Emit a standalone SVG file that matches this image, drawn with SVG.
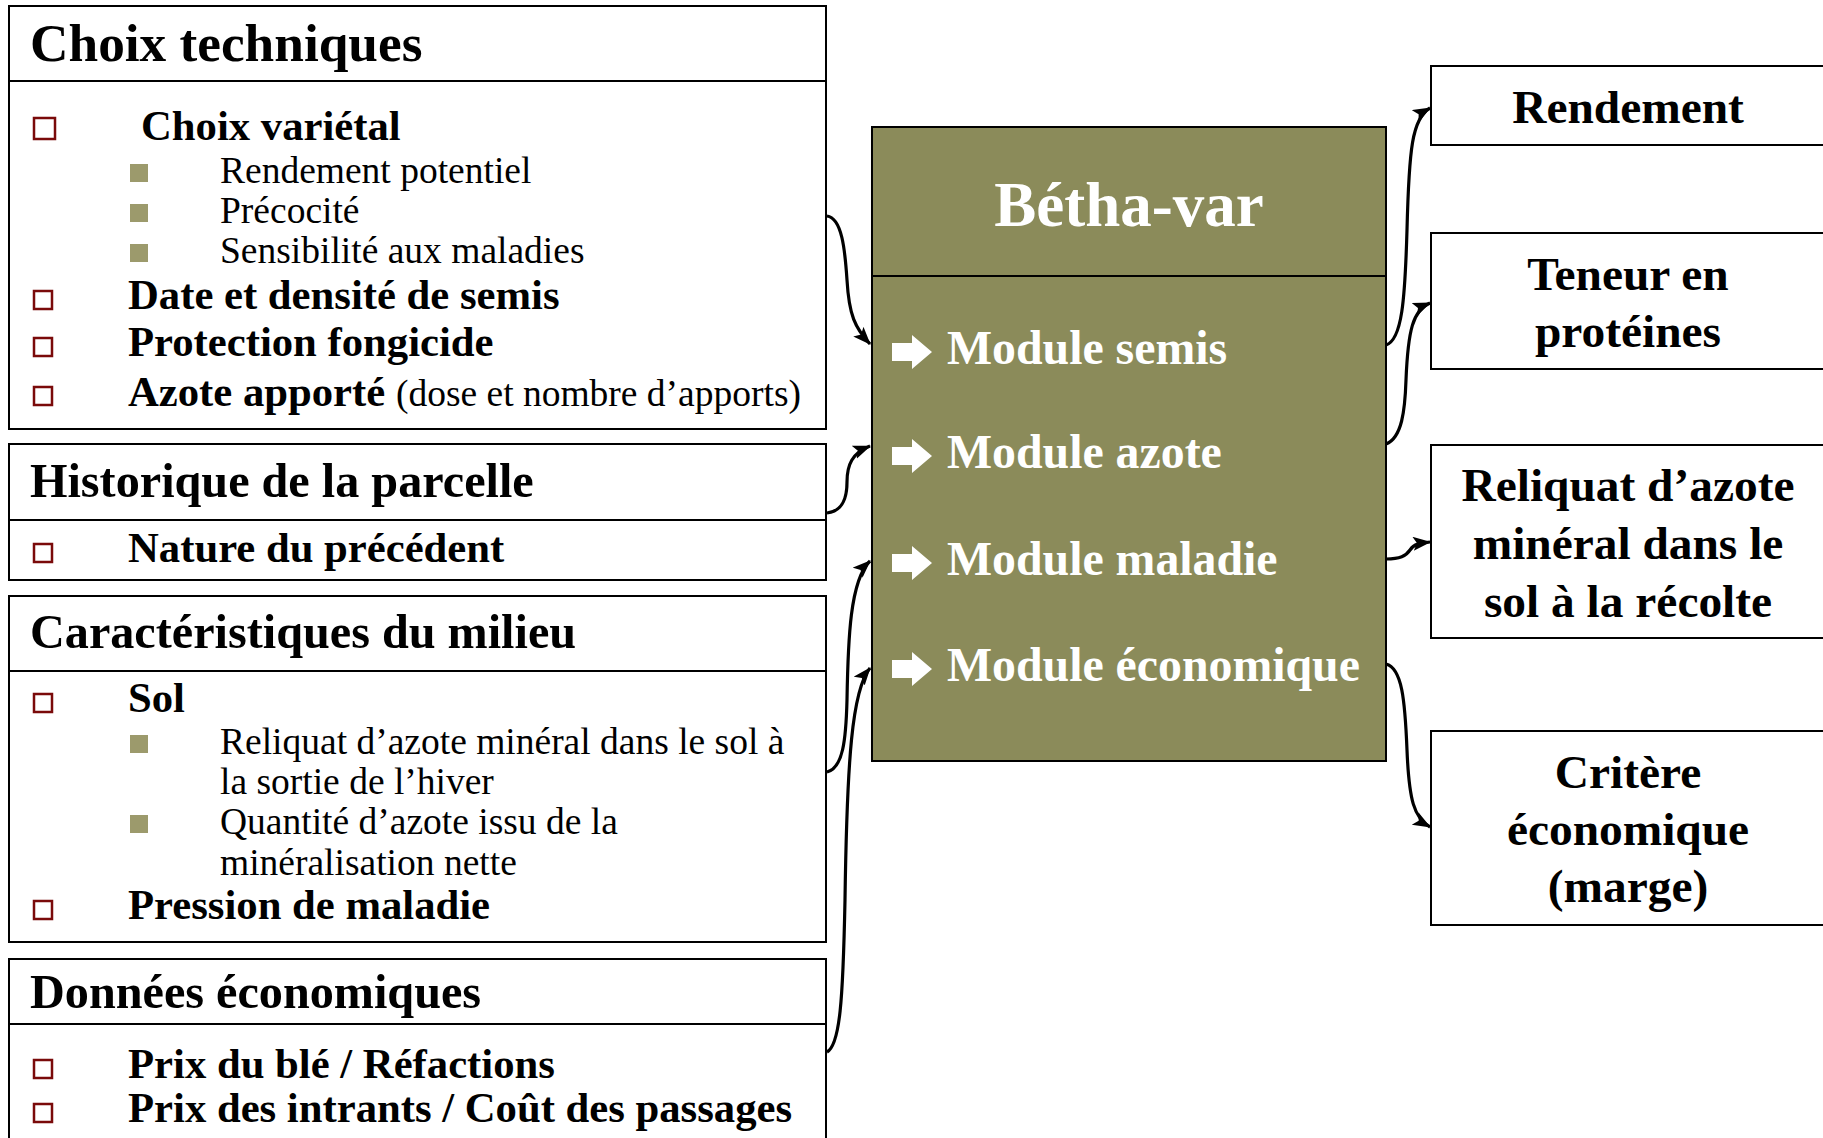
<svg xmlns="http://www.w3.org/2000/svg" width="1823" height="1138" viewBox="0 0 1823 1138">
<style>
text{font-family:"Liberation Serif","Times New Roman",serif;fill:#000}
.box{fill:#fff;stroke:#000;stroke-width:2}
.sep{stroke:#000;stroke-width:2}
.t53{font-size:53.3px;font-weight:bold}
.t48{font-size:48.2px;font-weight:bold}
.b42{font-size:42.7px;font-weight:bold}
.r37{font-size:37.5px;font-weight:normal}
.hb{fill:none;stroke:#7a0a0a;stroke-width:2.5}
.ob{fill:#9c9a6c}
.mod{font-size:47.8px;font-weight:bold;fill:#fff}
.out{font-size:47.4px;font-weight:bold;text-anchor:middle}
.con{fill:none;stroke:#000;stroke-width:3.2;marker-end:url(#ah)}
</style>
<defs>
<marker id="ah" markerUnits="userSpaceOnUse" markerWidth="20" markerHeight="16" refX="17" refY="7" orient="auto">
<path d="M0,0 L18,7 L0,14 L4,7 z" fill="#000"/>
</marker>
<path id="warr" d="M0,-9 H20 V-17 L40,0 L20,17 V9 H0 Z" fill="#fff"/>
</defs>

<g id="choix-techniques">
<rect class="box" x="9" y="6" width="817" height="423"/>
<line class="sep" x1="9" y1="81" x2="826" y2="81"/>
<text class="t53" x="30" y="61">Choix techniques</text>
<rect class="hb" x="34" y="118" width="21" height="21"/>
<text class="b42" x="141" y="140">Choix variétal</text>
<rect class="ob" x="130" y="164" width="18" height="18"/>
<text class="r37" x="220" y="183">Rendement potentiel</text>
<rect class="ob" x="130" y="204" width="18" height="18"/>
<text class="r37" x="220" y="223">Précocité</text>
<rect class="ob" x="130" y="244" width="18" height="18"/>
<text class="r37" x="220" y="263">Sensibilité aux maladies</text>
<rect class="hb" x="34" y="291" width="18" height="18"/>
<text class="b42" x="128" y="309">Date et densité de semis</text>
<rect class="hb" x="34" y="338" width="18" height="18"/>
<text class="b42" x="128" y="356">Protection fongicide</text>
<rect class="hb" x="34" y="387" width="18" height="18"/>
<text class="b42" x="128" y="406">Azote apporté <tspan class="r37">(dose et nombre d’apports)</tspan></text>
</g>

<g id="historique">
<rect class="box" x="9" y="444" width="817" height="136"/>
<line class="sep" x1="9" y1="520" x2="826" y2="520"/>
<text class="t48" x="30" y="497">Historique de la parcelle</text>
<rect class="hb" x="34" y="544" width="18" height="18"/>
<text class="b42" x="128" y="562">Nature du précédent</text>
</g>

<g id="caracteristiques">
<rect class="box" x="9" y="596" width="817" height="346"/>
<line class="sep" x1="9" y1="671" x2="826" y2="671"/>
<text class="t48" x="30" y="648">Caractéristiques du milieu</text>
<rect class="hb" x="34" y="694" width="18" height="18"/>
<text class="b42" x="128" y="712">Sol</text>
<rect class="ob" x="130" y="735" width="18" height="18"/>
<text class="r37" x="220" y="754">Reliquat d’azote minéral dans le sol à</text>
<text class="r37" x="220" y="794">la sortie de l’hiver</text>
<rect class="ob" x="130" y="815" width="18" height="18"/>
<text class="r37" x="220" y="834">Quantité d’azote issu de la</text>
<text class="r37" x="220" y="875">minéralisation nette</text>
<rect class="hb" x="34" y="901" width="18" height="18"/>
<text class="b42" x="128" y="919">Pression de maladie</text>
</g>

<g id="donnees-economiques">
<rect class="box" x="9" y="959" width="817" height="220"/>
<line class="sep" x1="9" y1="1024" x2="826" y2="1024"/>
<text class="t48" x="30" y="1008">Données économiques</text>
<rect class="hb" x="34" y="1060" width="18" height="18"/>
<text class="b42" x="128" y="1078">Prix du blé / Réfactions</text>
<rect class="hb" x="34" y="1104" width="18" height="18"/>
<text class="b42" x="128" y="1122">Prix des intrants / Coût des passages</text>
</g>

<g id="betha-var">
<rect x="872" y="127" width="514" height="634" fill="#8b8b5a" stroke="#000" stroke-width="2"/>
<line class="sep" x1="872" y1="276" x2="1386" y2="276"/>
<text x="1129" y="226" font-size="63" font-weight="bold" text-anchor="middle" style="fill:#fff">Bétha-var</text>
<use href="#warr" x="892" y="352"/>
<text class="mod" x="947" y="364">Module semis</text>
<use href="#warr" x="892" y="456"/>
<text class="mod" x="947" y="468">Module azote</text>
<use href="#warr" x="892" y="563"/>
<text class="mod" x="947" y="575">Module maladie</text>
<use href="#warr" x="892" y="669"/>
<text class="mod" x="947" y="681">Module économique</text>
</g>

<g id="rendement">
<rect class="box" x="1431" y="66" width="450" height="79"/>
<text class="out" x="1628" y="123">Rendement</text>
</g>

<g id="teneur-proteines">
<rect class="box" x="1431" y="233" width="450" height="136"/>
<text class="out" x="1628" y="290">Teneur en</text>
<text class="out" x="1628" y="347">protéines</text>
</g>

<g id="reliquat-recolte">
<rect class="box" x="1431" y="445" width="450" height="193"/>
<text class="out" x="1628" y="501">Reliquat d’azote</text>
<text class="out" x="1628" y="559">minéral dans le</text>
<text class="out" x="1628" y="617">sol à la récolte</text>
</g>

<g id="critere-economique">
<rect class="box" x="1431" y="731" width="450" height="194"/>
<text class="out" x="1628" y="788">Critère</text>
<text class="out" x="1628" y="845">économique</text>
<text class="out" x="1628" y="902">(marge)</text>
</g>

<g id="connectors">
<path class="con" d="M827,216 C842,218 845,250 847,280 C849,315 855,328 870,344"/>
<path class="con" d="M827,513 C843,511 847,498 847,482 C847,465 852,453 870,446"/>
<path class="con" d="M827,772 C843,768 846,740 847,700 C848,640 850,580 870,561"/>
<path class="con" d="M827,1052 C840,1045 843,1000 845,900 C847,760 852,690 870,668"/>
<path class="con" d="M1386,345 C1402,340 1405,300 1407,230 C1409,150 1412,118 1430,108"/>
<path class="con" d="M1386,444 C1402,438 1405,410 1406,380 C1408,330 1413,310 1430,303"/>
<path class="con" d="M1386,559 C1400,559 1406,556 1410,550 C1414,544 1420,543 1430,542"/>
<path class="con" d="M1386,664 C1402,668 1405,700 1407,750 C1409,800 1414,818 1430,827"/>
</g>
</svg>
